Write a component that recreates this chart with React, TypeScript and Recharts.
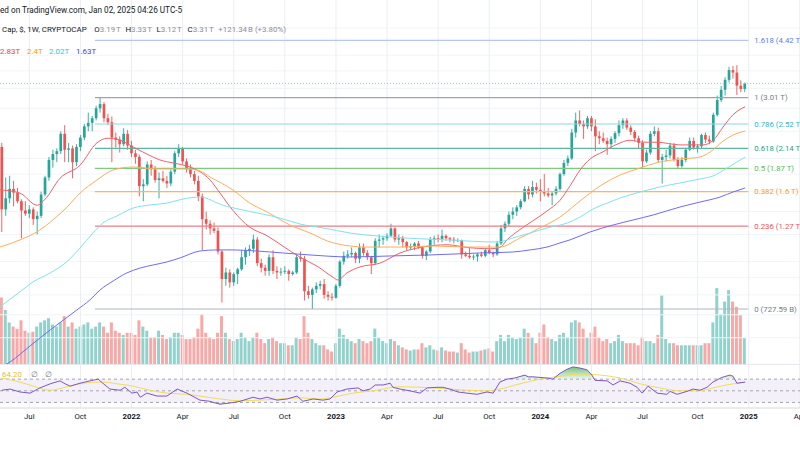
import React from 'react';
import {
  ComposedChart,
  Bar,
  Line,
  Area,
  XAxis,
  YAxis,
  ReferenceLine,
  ReferenceArea,
  Cell,
} from 'recharts';

const FONT = 'Roboto, "Noto Sans", "DejaVu Sans", sans-serif';
const UP = '#26a69a';
const DOWN = '#ef5350';
const UP_VOL = 'rgba(38,166,154,0.5)';
const DOWN_VOL = 'rgba(239,83,80,0.5)';
const GRID_V = '#e9eef5';
const GRID_H = '#f1f4f8';
const TEXT = '#131722';
const MUTED = '#8c8f99';

// weekly candles of total crypto market cap, index 0 = week of 17 May 2021
// [open, high, low, close] in trillions USD
const CANDLES: [number, number, number, number][] = [
  [2.16, 2.22, 1.22, 1.42], [1.42, 1.76, 1.36, 1.53], [1.53, 1.78, 1.48, 1.63], [1.63, 1.72, 1.45, 1.59], [1.59, 1.64, 1.48, 1.5],
  [1.5, 1.52, 1.17, 1.41], [1.41, 1.5, 1.36, 1.38], [1.38, 1.46, 1.34, 1.42], [1.42, 1.44, 1.28, 1.33], [1.33, 1.4, 1.2, 1.36],
  [1.36, 1.6, 1.34, 1.57], [1.57, 1.78, 1.55, 1.76], [1.76, 2.02, 1.72, 1.98], [1.98, 2.12, 1.88, 2.06], [2.06, 2.14, 1.95, 2.1],
  [2.1, 2.4, 2.06, 2.36], [2.36, 2.5, 1.95, 2.12], [2.12, 2.22, 1.95, 2.14], [2.14, 2.18, 1.75, 1.95], [1.95, 2.2, 1.9, 2.16],
  [2.16, 2.34, 2.1, 2.3], [2.3, 2.52, 2.26, 2.48], [2.48, 2.72, 2.4, 2.54], [2.54, 2.66, 2.4, 2.62], [2.62, 2.85, 2.58, 2.8],
  [2.8, 3.01, 2.72, 2.88], [2.88, 2.92, 2.55, 2.62], [2.62, 2.7, 2.5, 2.55], [2.55, 2.65, 1.95, 2.3], [2.3, 2.38, 2.15, 2.27],
  [2.27, 2.32, 2.08, 2.2], [2.2, 2.45, 2.17, 2.36], [2.36, 2.42, 2.12, 2.18], [2.18, 2.25, 2.02, 2.07], [2.07, 2.12, 1.93, 2.02],
  [2.02, 2.05, 1.55, 1.66], [1.66, 1.74, 1.5, 1.68], [1.68, 1.96, 1.66, 1.92], [1.92, 1.98, 1.78, 1.86], [1.86, 1.9, 1.7, 1.73],
  [1.73, 1.82, 1.53, 1.75], [1.75, 1.84, 1.7, 1.72], [1.72, 1.78, 1.64, 1.69], [1.69, 1.86, 1.66, 1.83], [1.83, 2.1, 1.8, 2.07],
  [2.07, 2.2, 2.02, 2.14], [2.14, 2.16, 1.92, 1.96], [1.96, 2.0, 1.82, 1.86], [1.86, 1.92, 1.76, 1.8], [1.8, 1.84, 1.68, 1.72],
  [1.72, 1.78, 1.5, 1.55], [1.55, 1.58, 1.08, 1.33], [1.33, 1.4, 1.24, 1.29], [1.29, 1.32, 1.2, 1.25], [1.25, 1.3, 1.21, 1.23],
  [1.23, 1.26, 1.05, 1.07], [1.07, 1.08, 0.76, 0.89], [0.89, 0.96, 0.85, 0.93], [0.93, 0.95, 0.84, 0.87], [0.87, 0.93, 0.85, 0.92],
  [0.92, 0.96, 0.86, 0.95], [0.95, 1.08, 0.94, 1.03], [1.03, 1.1, 0.98, 1.08], [1.08, 1.12, 1.04, 1.09], [1.09, 1.2, 1.06, 1.16],
  [1.16, 1.18, 0.97, 0.99], [0.99, 1.02, 0.93, 0.96], [0.96, 0.98, 0.91, 0.94], [0.94, 1.05, 0.91, 1.03], [1.03, 1.08, 0.92, 0.94],
  [0.94, 0.97, 0.89, 0.93], [0.93, 0.96, 0.91, 0.935], [0.935, 0.97, 0.92, 0.94], [0.94, 0.95, 0.88, 0.92], [0.92, 0.94, 0.91, 0.93],
  [0.93, 1.05, 0.92, 1.03], [1.03, 1.07, 1.0, 1.02], [1.02, 1.04, 0.77, 0.82], [0.82, 0.85, 0.78, 0.8], [0.8, 0.84, 0.7276, 0.83],
  [0.83, 0.87, 0.81, 0.85], [0.85, 0.88, 0.83, 0.86], [0.86, 0.89, 0.78, 0.8], [0.8, 0.82, 0.77, 0.79], [0.79, 0.81, 0.77, 0.785],
  [0.785, 0.86, 0.78, 0.85], [0.85, 1.01, 0.84, 1.0], [1.0, 1.07, 0.98, 1.04], [1.04, 1.08, 1.02, 1.05], [1.05, 1.1, 1.03, 1.06],
  [1.06, 1.07, 0.99, 1.02], [1.02, 1.13, 0.99, 1.1], [1.1, 1.13, 1.04, 1.06], [1.06, 1.08, 1.01, 1.03], [1.03, 1.04, 0.92, 0.99],
  [0.99, 1.17, 0.98, 1.15], [1.15, 1.2, 1.1, 1.16], [1.16, 1.19, 1.12, 1.17], [1.17, 1.21, 1.15, 1.19], [1.19, 1.29, 1.18, 1.25],
  [1.25, 1.26, 1.14, 1.16], [1.16, 1.2, 1.12, 1.17], [1.17, 1.19, 1.1, 1.14], [1.14, 1.15, 1.08, 1.1], [1.1, 1.13, 1.08, 1.11],
  [1.11, 1.14, 1.08, 1.13], [1.13, 1.15, 1.09, 1.1], [1.1, 1.11, 1.02, 1.04], [1.04, 1.08, 1.01, 1.07], [1.07, 1.18, 1.06, 1.16],
  [1.16, 1.19, 1.12, 1.17], [1.17, 1.2, 1.14, 1.165], [1.165, 1.24, 1.14, 1.19], [1.19, 1.2, 1.15, 1.17], [1.17, 1.18, 1.14, 1.16],
  [1.16, 1.18, 1.13, 1.15], [1.15, 1.17, 1.14, 1.155], [1.155, 1.16, 1.02, 1.05], [1.05, 1.07, 1.03, 1.04], [1.04, 1.1, 1.02, 1.03],
  [1.03, 1.05, 1.01, 1.035], [1.035, 1.06, 1.0, 1.05], [1.05, 1.07, 1.03, 1.04], [1.04, 1.09, 1.03, 1.08], [1.08, 1.12, 1.05, 1.06],
  [1.06, 1.07, 1.03, 1.05], [1.05, 1.15, 1.04, 1.13], [1.13, 1.28, 1.12, 1.25], [1.25, 1.31, 1.22, 1.29], [1.29, 1.4, 1.27, 1.37],
  [1.37, 1.44, 1.33, 1.4], [1.4, 1.46, 1.36, 1.44], [1.44, 1.52, 1.42, 1.5], [1.5, 1.66, 1.49, 1.63], [1.63, 1.66, 1.52, 1.57],
  [1.57, 1.72, 1.54, 1.65], [1.65, 1.7, 1.58, 1.62], [1.62, 1.74, 1.5, 1.6], [1.6, 1.8, 1.55, 1.58], [1.58, 1.64, 1.54, 1.56],
  [1.56, 1.6, 1.46, 1.58], [1.58, 1.66, 1.56, 1.63], [1.63, 1.82, 1.61, 1.8], [1.8, 1.98, 1.78, 1.94], [1.94, 2.04, 1.9, 2.0],
  [2.0, 2.44, 1.98, 2.38], [2.38, 2.72, 2.3, 2.58], [2.58, 2.76, 2.48, 2.52], [2.52, 2.58, 2.28, 2.48], [2.48, 2.66, 2.44, 2.62],
  [2.62, 2.66, 2.4, 2.48], [2.48, 2.6, 2.1, 2.32], [2.32, 2.4, 2.2, 2.29], [2.29, 2.38, 2.22, 2.25], [2.25, 2.3, 2.05, 2.2],
  [2.2, 2.32, 2.14, 2.28], [2.28, 2.4, 2.22, 2.37], [2.37, 2.58, 2.32, 2.5], [2.5, 2.62, 2.44, 2.58], [2.58, 2.62, 2.42, 2.46],
  [2.46, 2.5, 2.34, 2.39], [2.39, 2.42, 2.24, 2.29], [2.29, 2.33, 2.14, 2.22], [2.22, 2.26, 1.88, 1.96], [1.96, 2.12, 1.94, 2.08],
  [2.08, 2.4, 2.05, 2.36], [2.36, 2.48, 2.32, 2.4], [2.4, 2.46, 1.95, 1.98], [1.98, 2.06, 1.69, 2.02], [2.02, 2.12, 1.96, 2.04],
  [2.04, 2.22, 2.0, 2.18], [2.18, 2.22, 1.96, 1.98], [1.98, 2.02, 1.86, 1.9], [1.9, 2.02, 1.88, 1.98], [1.98, 2.15, 1.95, 2.12],
  [2.12, 2.3, 2.1, 2.25], [2.25, 2.3, 2.12, 2.15], [2.15, 2.2, 2.08, 2.17], [2.17, 2.36, 2.14, 2.34], [2.34, 2.38, 2.22, 2.27],
  [2.27, 2.33, 2.2, 2.24], [2.24, 2.72, 2.22, 2.68], [2.68, 3.05, 2.65, 2.96], [2.96, 3.25, 2.92, 3.17], [3.17, 3.45, 3.05, 3.39],
  [3.39, 3.7, 3.33, 3.62], [3.62, 3.72, 3.42, 3.56], [3.56, 3.74, 3.06, 3.26], [3.26, 3.38, 3.12, 3.19], [3.19, 3.33, 3.12, 3.31],
];

// weekly volume, billions USD
const VOLUME = [
  640, 520, 400, 360, 340, 420, 320, 300, 310, 360,
  400, 420, 440, 380, 360, 400, 460, 360, 400, 340,
  360, 380, 400, 340, 360, 400, 360, 300, 400, 320,
  300, 280, 300, 300, 280, 420, 360, 320, 260, 260,
  320, 280, 240, 260, 300, 300, 280, 240, 240, 260,
  340, 480, 300, 260, 240, 300, 460, 300, 240, 220,
  240, 300, 260, 220, 260, 300, 240, 200, 240, 260,
  220, 200, 200, 180, 180, 260, 240, 460, 300, 240,
  200, 180, 180, 140, 120, 200, 340, 280, 240, 220,
  200, 240, 220, 200, 220, 340, 260, 220, 200, 240,
  220, 180, 160, 140, 130, 140, 140, 200, 160, 180,
  140, 130, 160, 130, 120, 120, 110, 200, 140, 110,
  120, 120, 130, 140, 150, 120, 220, 280, 220, 280,
  260, 240, 260, 340, 300, 260, 200, 300, 380, 260,
  240, 220, 280, 300, 260, 400, 420, 400, 340, 260,
  300, 360, 260, 220, 240, 200, 220, 280, 220, 200,
  200, 200, 180, 260, 220, 220, 200, 280, 660, 240,
  200, 200, 180, 180, 180, 180, 180, 180, 180, 200,
  200, 400, 730, 480, 600, 710, 600, 550, 470, 250,
];

// first weekly bar of each labelled month
const TICK_IDX = [7, 20, 33, 46, 59, 72, 85, 98, 111, 124, 137, 150, 163, 177, 190, 203];
const TICK_LABELS = ['Jul', 'Oct', '2022', 'Apr', 'Jul', 'Oct', '2023', 'Apr', 'Jul', 'Oct', '2024', 'Apr', 'Jul', 'Oct', '2025', 'Apr'];

// moving averages: [bar index, value in T]
const MA_RED: [number, number][] = [
  [-0.5, 1.62], [4.6, 1.585], [9.0, 1.46], [11.0, 1.52], [14.8, 1.75], [19.9, 1.91], [24.2, 2.22], [26.8, 2.29],
  [30.1, 2.26], [33.4, 2.16], [36.9, 2.06], [40.2, 1.98], [43.6, 1.94], [47.1, 1.9], [50.4, 1.83], [53.0, 1.73],
  [55.5, 1.585], [58.8, 1.41], [63.1, 1.26], [67.5, 1.19], [71.5, 1.11], [75.9, 1.03], [80.2, 0.97], [84.3, 0.9],
  [85.5, 0.884], [87.8, 0.927], [91.1, 0.965], [96.2, 0.99], [101.3, 1.06], [106.4, 1.1], [113.3, 1.12], [118.3, 1.1],
  [124.2, 1.09], [126.7, 1.1], [128.5, 1.157], [131.8, 1.24], [135.1, 1.315], [138.7, 1.405], [142.0, 1.51],
  [144.5, 1.66], [147.1, 1.85], [149.6, 1.99], [152.9, 2.09], [156.5, 2.2], [159.8, 2.26], [163.1, 2.23],
  [166.7, 2.23], [172.5, 2.19], [178.4, 2.19], [181.0, 2.26], [183.5, 2.47], [186.0, 2.68], [189.1, 2.83],
];
const MA_ORANGE: [number, number][] = [
  [-0.5, 1.103], [4.6, 1.157], [9.7, 1.237], [13.0, 1.323], [16.6, 1.443], [19.9, 1.585], [24.2, 1.73], [28.3, 1.85],
  [33.4, 1.888], [39.5, 1.863], [47.1, 1.863], [50.4, 1.838], [53.0, 1.765], [58.8, 1.618], [63.1, 1.482],
  [67.5, 1.396], [73.3, 1.279], [78.4, 1.212], [84.3, 1.134], [92.9, 1.103], [101.3, 1.103], [109.7, 1.111],
  [118.3, 1.103], [126.7, 1.103], [131.8, 1.172], [136.9, 1.254], [142.0, 1.349], [147.1, 1.503], [152.2, 1.662],
  [157.3, 1.789], [161.6, 1.863], [167.4, 1.952], [172.5, 1.992], [177.6, 2.019], [180.2, 2.088], [183.5, 2.248],
  [186.0, 2.34], [189.1, 2.404],
];
const MA_CYAN: [number, number][] = [
  [-0.5, 0.738], [4.6, 0.816], [7.9, 0.872], [12.3, 0.927], [16.6, 1.001], [19.9, 1.096], [23.2, 1.212], [25.7, 1.296],
  [29.3, 1.359], [33.4, 1.433], [37.7, 1.463], [42.0, 1.482], [46.1, 1.523], [50.4, 1.543], [56.3, 1.46], [62.6, 1.405],
  [70.8, 1.34], [75.9, 1.287], [81.7, 1.254], [88.6, 1.212], [98.8, 1.18], [113.3, 1.157], [126.0, 1.141],
  [130.0, 1.172], [134.4, 1.212], [138.7, 1.254], [143.8, 1.296], [147.1, 1.349], [150.4, 1.424], [154.0, 1.482],
  [157.3, 1.533], [162.4, 1.596], [167.4, 1.651], [172.5, 1.696], [177.6, 1.742], [180.9, 1.777], [184.5, 1.875],
  [189.1, 2.019],
];
const MA_BLUE: [number, number][] = [
  [-0.5, 0.49], [2.1, 0.51], [7.2, 0.568], [12.3, 0.632], [19.1, 0.723], [22.4, 0.773], [25.0, 0.827], [28.3, 0.878],
  [31.8, 0.927], [35.2, 0.958], [38.5, 0.978], [42.0, 0.998], [45.3, 1.025], [50.4, 1.074], [54.7, 1.082], [58.8, 1.082],
  [64.9, 1.074], [71.5, 1.06], [78.4, 1.046], [88.6, 1.032], [98.8, 1.039], [108.9, 1.046], [121.6, 1.06], [130.0, 1.067],
  [134.4, 1.082], [138.7, 1.103], [142.0, 1.134], [144.5, 1.157], [149.6, 1.22], [155.5, 1.279], [160.6, 1.323],
  [165.7, 1.368], [172.5, 1.443], [177.6, 1.492], [182.7, 1.543], [186.0, 1.596], [189.1, 1.64],
];

// RSI(14) and its moving average: [bar index, value]
const RSI: [number, number][] = [
  [0, 51], [2.1, 53], [4.6, 48], [7.2, 46], [9.7, 55], [12.3, 62], [14.8, 67], [16.1, 62], [17.4, 58], [19.9, 63],
  [22.4, 67], [24.5, 70], [25.7, 63], [27.5, 53], [30.1, 51], [31.3, 56], [33.1, 46], [34.4, 48], [35.2, 39], [36.9, 46],
  [39.5, 41], [42.0, 41], [44.6, 53], [47.1, 46], [50.4, 34], [52.9, 32], [55.5, 27], [58.0, 29], [60.6, 32], [63.9, 39],
  [65.7, 36], [67.5, 39], [70.0, 34], [72.6, 36], [75.1, 41], [76.6, 32], [79.2, 36], [81.7, 34], [83.5, 36], [85.3, 48],
  [87.8, 53], [90.6, 55], [91.9, 50], [93.7, 53], [95.0, 60], [97.0, 60], [98.8, 63], [99.5, 56], [101.3, 53], [103.8, 50],
  [106.4, 46], [108.2, 55], [110.7, 56], [112.2, 56], [114.0, 53], [116.0, 48], [118.3, 46], [120.9, 44], [123.4, 48],
  [125.0, 46], [126.7, 65], [128.5, 70], [130.5, 72], [133.1, 77], [133.9, 74], [135.1, 74], [138.7, 72], [140.2, 70],
  [142.0, 80], [143.8, 87], [145.3, 91], [147.1, 89], [148.9, 86], [150.1, 77], [150.9, 68], [154.0, 67], [155.5, 60],
  [157.3, 67], [159.8, 63], [161.6, 56], [162.9, 46], [164.4, 58], [166.7, 46], [169.2, 44], [170.0, 49], [171.8, 44],
  [174.3, 49], [175.8, 53], [177.6, 51], [179.4, 56], [180.9, 65], [183.2, 73], [185.2, 77], [186.0, 75], [187.0, 63],
  [189.1, 65],
];
const RSI_MA: [number, number][] = [
  [0, 72], [4.6, 65], [8.0, 58], [12.3, 51], [16.6, 57], [20.7, 63], [25.7, 65], [29.3, 62], [33.4, 58], [37.7, 51],
  [42.0, 46], [47.1, 44], [50.4, 41], [55.5, 36], [60.6, 33], [65.7, 34], [70.8, 36], [75.9, 38], [80.9, 36], [84.3, 39],
  [89.3, 46], [94.4, 50], [101.3, 57], [109.7, 55], [118.3, 51], [123.4, 50], [126.7, 53], [131.8, 62], [136.9, 70],
  [142.0, 75], [147.1, 79], [152.2, 77], [157.3, 72], [162.4, 62], [167.4, 55], [172.5, 50], [177.6, 50], [180.9, 55],
  [186.0, 62], [189.1, 64.2],
];

// Fibonacci retracement drawn from the Nov 2021 high to the Nov 2022 low
const FIB_RATIOS = ['1.618', '1', '0.786', '0.618', '0.5', '0.382', '0.236', '0'];
const FIB_VALUES = [4.42, 3.01, 2.52, 2.14, 1.87, 1.6, 1.27, 0.72759];
const FIB_TEXT = ['4.42 T', '3.01 T', '2.52 T', '2.14 T', '1.87 T', '1.6 T', '1.27 T', '727.59 B'];
const FIB_LINE = ['#b7c5f7', '#a3a4aa', '#8fd5e6', '#5db89f', '#80c982', '#ffb55f', '#f47a84', '#b4b5ba'];
const FIB_LABEL = ['#5b7cf2', '#787b86', '#2bb4cf', '#27a184', '#5db861', '#ff981a', '#ef4f5b', '#787b86'];
const FIB_FROM = 23.7;
const FIB_TO = 189.9;

const GRID_PRICES = [0.6, 0.7, 0.8, 0.9, 1, 1.2, 1.4, 1.6, 1.8, 2, 2.4, 2.8, 3.2, 3.6, 4, 4.8];

const OHLC_KEYS = ['O', 'H', 'L', 'C'];
const OHLC_VALUES = ['3.19\u202FT', '3.33\u202FT', '3.12\u202FT', '3.31\u202FT'];
const MA_LEGEND = ['2.83T', '2.4T', '2.02T', '1.63T'];
const MA_COLORS = ['#f0616b', '#ffad5c', '#7ee3ee', '#6f6cf2'];
const MA_LEGEND_COLORS = ['#f23645', '#ff9800', '#1fc9e0', '#3548e0'];

const W = 800;
const PANE_H = 364;
const RSI_H = 66;
const X_DOMAIN: [number, number] = [-0.46, 203.05];
const PRICE_DOMAIN: [number, number] = [0.503, 5.794];
const VOL_DOMAIN: [number, number] = [0, 3500];
const RSI_DOMAIN: [number, number] = [20.5, 96];
const M = { top: 0, right: 0, bottom: 0, left: 0 };

const Candle = (props: any) => {
  const { x, y, width, height } = props;
  const d = props.payload ?? props;
  if (x == null || y == null || !d) return null;
  const top = Math.min(y, y + height);
  const bot = Math.max(y, y + height);
  const lh = Math.log(d.h);
  const ll = Math.log(d.l);
  // the price axis is logarithmic, so place open/close between high and low in log space
  const at = (v: number) => top + ((lh - Math.log(v)) / (lh - ll)) * (bot - top);
  const col = d.c >= d.o ? UP : DOWN;
  const cx = x + width / 2;
  const bt = at(Math.max(d.o, d.c));
  const bb = at(Math.min(d.o, d.c));
  return (
    <g>
      <line x1={cx} x2={cx} y1={top} y2={bot} stroke={col} strokeWidth={0.9} />
      <rect x={cx - 1.35} y={bt} width={2.7} height={Math.max(bb - bt, 0.9)} fill={col} />
    </g>
  );
};

const TimeTick = (props: any) => {
  const { x, y, payload } = props;
  const label = TICK_LABELS[TICK_IDX.indexOf(payload.value)] ?? '';
  const isYear = /^\d{4}$/.test(label);
  return (
    <text
      x={x}
      y={y + 9}
      textAnchor="middle"
      fontSize={7.8}
      fontFamily={FONT}
      fontWeight={isYear ? 700 : 400}
      fill={TEXT}
    >
      {label}
    </text>
  );
};

export default function App() {
  const rows = CANDLES.map(([o, h, l, c], i) => ({ i, o, h, l, c, v: VOLUME[i] }));
  const pts = (arr: [number, number][]) => arr.map(([i, v]) => ({ i, v }));
  const mas = [MA_RED, MA_ORANGE, MA_CYAN, MA_BLUE].map(pts);
  const rsi = pts(RSI);
  const rsiMa = pts(RSI_MA);
  const lastClose = CANDLES[CANDLES.length - 1][3];

  return (
    <div
      style={{
        position: 'absolute',
        left: 0,
        top: 0,
        width: W,
        height: 450,
        background: '#fff',
        overflow: 'hidden',
        fontFamily: FONT,
      }}
    >
      {/* grid + volume */}
      <div style={{ position: 'absolute', left: 0, top: 0 }}>
        <ComposedChart width={W} height={PANE_H} data={rows} margin={M}>
          <XAxis type="number" dataKey="i" domain={X_DOMAIN} allowDataOverflow hide />
          <YAxis yAxisId="vol" domain={VOL_DOMAIN} allowDataOverflow hide />
          <YAxis yAxisId="px" scale="log" domain={PRICE_DOMAIN} allowDataOverflow hide />
          {GRID_PRICES.map((p) => (
            <ReferenceLine key={'h' + p} yAxisId="px" y={p} stroke={GRID_H} />
          ))}
          {TICK_IDX.map((t) => (
            <ReferenceLine key={'v' + t} yAxisId="vol" x={t} stroke={GRID_V} />
          ))}
          <Bar yAxisId="vol" dataKey="v" barSize={3} isAnimationActive={false}>
            {rows.map((r) => (
              <Cell key={r.i} fill={r.c >= r.o ? UP_VOL : DOWN_VOL} />
            ))}
          </Bar>
        </ComposedChart>
      </div>

      {/* price pane */}
      <div style={{ position: 'absolute', left: 0, top: 0 }}>
        <ComposedChart width={W} height={PANE_H} data={rows} margin={M}>
          <XAxis type="number" dataKey="i" domain={X_DOMAIN} allowDataOverflow hide />
          <YAxis scale="log" domain={PRICE_DOMAIN} allowDataOverflow hide />
          <ReferenceLine y={lastClose} stroke="#93cfcf" strokeDasharray="1 2" />
          {FIB_VALUES.map((v, k) => (
            <ReferenceLine
              key={FIB_RATIOS[k]}
              segment={[
                { x: FIB_FROM, y: v },
                { x: FIB_TO, y: v },
              ]}
              stroke={FIB_LINE[k]}
              strokeWidth={1.2}
              label={{
                value: `${FIB_RATIOS[k]} (${FIB_TEXT[k]})`,
                position: 'right',
                offset: 6,
                fill: FIB_LABEL[k],
                fontSize: 7.8,
                fontFamily: FONT,
              }}
            />
          ))}
          {mas.map((d, k) => (
            <Line
              key={k}
              data={d}
              dataKey="v"
              type="monotone"
              stroke={MA_COLORS[k]}
              strokeWidth={1}
              dot={false}
              isAnimationActive={false}
            />
          ))}
          <Bar
            dataKey={(d: any) => [d.l, d.h]}
            barSize={3}
            shape={(p: any) => <Candle {...p} />}
            isAnimationActive={false}
          />
        </ComposedChart>
      </div>

      <div style={{ position: 'absolute', left: 0, top: PANE_H, width: W, height: 1, background: '#e6e8ee' }} />

      {/* RSI pane + time axis */}
      <div style={{ position: 'absolute', left: 0, top: PANE_H }}>
        <ComposedChart width={W} height={RSI_H} data={rsi} margin={M}>
          <defs>
            <linearGradient id="obFill" x1="0" y1="0" x2="0" y2="1">
              <stop offset="0%" stopColor="#4caf50" stopOpacity={0.75} />
              <stop offset="100%" stopColor="#4caf50" stopOpacity={0.1} />
            </linearGradient>
            <linearGradient id="osFill" x1="0" y1="0" x2="0" y2="1">
              <stop offset="0%" stopColor="#ef5350" stopOpacity={0.1} />
              <stop offset="100%" stopColor="#ef5350" stopOpacity={0.6} />
            </linearGradient>
          </defs>
          <XAxis
            type="number"
            dataKey="i"
            domain={X_DOMAIN}
            allowDataOverflow
            ticks={TICK_IDX}
            interval={0}
            tick={<TimeTick />}
            tickLine={false}
            tickSize={0}
            axisLine={{ stroke: '#d5d8df' }}
            height={22}
          />
          <YAxis domain={RSI_DOMAIN} allowDataOverflow hide />
          {TICK_IDX.map((t) => (
            <ReferenceLine key={'r' + t} x={t} stroke={GRID_V} />
          ))}
          <ReferenceArea y1={30} y2={70} fill="#7e57c2" fillOpacity={0.09} stroke="none" />
          {[70, 50, 30].map((v) => (
            <ReferenceLine key={'d' + v} y={v} stroke="#a3a6ae" strokeDasharray="3 3" />
          ))}
          <Area
            dataKey={(d: any) => [70, Math.max(70, d.v)]}
            type="linear"
            stroke="none"
            fill="url(#obFill)"
            fillOpacity={1}
            isAnimationActive={false}
          />
          <Area
            dataKey={(d: any) => [Math.min(30, d.v), 30]}
            type="linear"
            stroke="none"
            fill="url(#osFill)"
            fillOpacity={1}
            isAnimationActive={false}
          />
          <Line
            data={rsiMa}
            dataKey="v"
            type="monotone"
            stroke="#f2dc5d"
            strokeWidth={1}
            dot={false}
            isAnimationActive={false}
          />
          <Line dataKey="v" type="linear" stroke="#7e57c2" strokeWidth={1} dot={false} isAnimationActive={false} />
        </ComposedChart>
      </div>

      {/* legends */}
      <svg
        width={W}
        height={450}
        style={{ position: 'absolute', left: 0, top: 0, pointerEvents: 'none' }}
        fontFamily={FONT}
        fontSize={7.9}
      >
        <text x={0} y={13} fill={TEXT} fontSize={8.2}>
          ed on TradingView.com, Jan 02, 2025 04:26 UTC-5
        </text>
        <text x={2} y={31.5} fill={TEXT}>
          Cap, $, 1W, CRYPTOCAP
        </text>
        {OHLC_KEYS.map((k, n) => (
          <text key={k} x={94.3 + n * 31.1} y={31.5}>
            <tspan fill={TEXT}>{k}</tspan>
            <tspan fill={MUTED}>{OHLC_VALUES[n]}</tspan>
          </text>
        ))}
        <text x={218.3} y={31.5} fill={MUTED}>
          +121.34{'\u202F'}B (+3.80%)
        </text>
        {MA_LEGEND.map((t, n) => (
          <text key={t} x={[0, 27, 49, 76][n]} y={54} fill={MA_LEGEND_COLORS[n]}>
            {t}
          </text>
        ))}
        <text x={2} y={377} fill="#e3c22b">
          64.20
        </text>
        <text x={31} y={377} fill="#787b86">
          ∅
        </text>
        <text x={45} y={377} fill="#787b86">
          ∅
        </text>
      </svg>
    </div>
  );
}
